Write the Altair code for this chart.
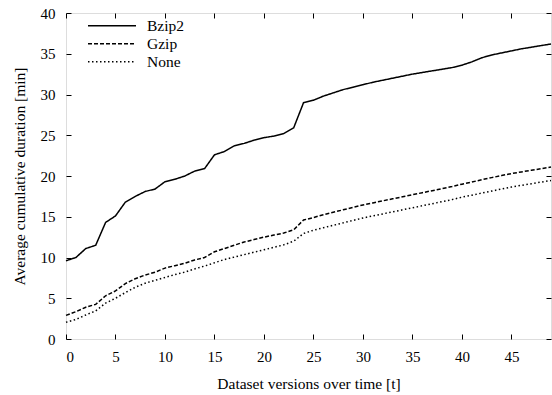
import altair as alt
import pandas as pd

versions = list(range(50))
series_names = ["Bzip2", "Gzip", "None"]

bzip2 = [9.6, 10.0, 11.1, 11.5, 14.3, 15.1, 16.8, 17.5, 18.1, 18.4,
         19.3, 19.6, 20.0, 20.6, 20.9, 22.6, 23.0, 23.7, 24.0, 24.4,
         24.7, 24.9, 25.2, 25.9, 29.0, 29.3, 29.8, 30.2, 30.6, 30.9,
         31.2, 31.5, 31.75, 32.0, 32.25, 32.5, 32.7, 32.9, 33.1, 33.3,
         33.6, 34.0, 34.5, 34.85, 35.1, 35.35, 35.6, 35.8, 36.0, 36.2]
gzip = [2.9, 3.35, 3.9, 4.25, 5.3, 5.9, 6.8, 7.4, 7.85, 8.2,
        8.7, 9.0, 9.3, 9.7, 10.0, 10.7, 11.1, 11.5, 11.9, 12.2,
        12.5, 12.75, 13.0, 13.4, 14.6, 14.9, 15.25, 15.55, 15.85, 16.15,
        16.45, 16.7, 16.95, 17.2, 17.45, 17.7, 17.95, 18.2, 18.45, 18.7,
        19.0, 19.25, 19.55, 19.8, 20.05, 20.3, 20.5, 20.7, 20.9, 21.1]
none = [2.05, 2.4, 2.95, 3.45, 4.4, 5.0, 5.7, 6.35, 6.85, 7.2,
        7.55, 7.9, 8.2, 8.6, 8.95, 9.35, 9.75, 10.05, 10.35, 10.65,
        10.95, 11.25, 11.55, 12.0, 12.95, 13.35, 13.65, 13.95, 14.25, 14.55,
        14.85, 15.1, 15.35, 15.6, 15.85, 16.1, 16.35, 16.6, 16.85, 17.1,
        17.4, 17.65, 17.9, 18.15, 18.4, 18.65, 18.85, 19.05, 19.25, 19.45]

x_ticks = [0, 5, 10, 15, 20, 25, 30, 35, 40, 45]
y_ticks = [0, 5, 10, 15, 20, 25, 30, 35, 40]

rows = []
for name, vals in zip(series_names, [bzip2, gzip, none]):
    for t, v in zip(versions, vals):
        rows.append({"t": t, "v": v, "series": name})
df = pd.DataFrame(rows)

FONT = "Liberation Serif"
xscale = alt.Scale(domain=[0, 49], nice=False, zero=False)
yscale = alt.Scale(domain=[0, 40], nice=False)

common_axis = dict(grid=False, domain=False, tickSize=5, tickColor="black",
                   tickWidth=1, labelFont=FONT, labelFontSize=15,
                   labelColor="black", titleFont=FONT, titleFontSize=15.5,
                   titleFontWeight="normal", titleColor="black")

lines = alt.Chart(df).mark_line(strokeWidth=1.5, color="black").encode(
    x=alt.X("t:Q", scale=xscale,
            axis=alt.Axis(title="Dataset versions over time [t]", values=x_ticks,
                          orient="bottom", offset=-5, labelPadding=10,
                          titlePadding=12, **common_axis)),
    y=alt.Y("v:Q", scale=yscale,
            axis=alt.Axis(title="Average cumulative duration [min]", values=y_ticks,
                          orient="left", offset=-5, labelPadding=11,
                          titlePadding=13, **common_axis)),
    strokeDash=alt.StrokeDash(
        "series:N",
        scale=alt.Scale(domain=series_names, range=[[1, 0], [4, 2], [1.5, 2.5]]),
        legend=alt.Legend(title=None, orient="none", legendX=21, legendY=4,
                          symbolType="stroke", symbolSize=2304, symbolStrokeWidth=1.5,
                          symbolStrokeColor="black", labelFont=FONT, labelFontSize=15.5,
                          labelColor="black", labelOffset=10, clipHeight=17.5,
                          rowPadding=0, padding=0)),
)

mirror = alt.Chart(df).mark_point(opacity=0).encode(
    x=alt.X("t:Q", scale=xscale,
            axis=alt.Axis(title=None, values=x_ticks, orient="top", offset=-5,
                          labels=False, **common_axis)),
    y=alt.Y("v:Q", scale=yscale,
            axis=alt.Axis(title=None, values=y_ticks, orient="right", offset=-5,
                          labels=False, **common_axis)),
)

chart = alt.layer(lines, mirror).resolve_axis(x="independent", y="independent").properties(
    width=485, height=326,
    autosize=alt.AutoSizeParams(type="none"),
    padding={"left": 66, "top": 13, "right": 1, "bottom": 56},
    background="white",
).configure_view(stroke="black", strokeWidth=1).configure(font=FONT)

chart.save("out.html", embed_options={"renderer": "svg", "actions": False})
